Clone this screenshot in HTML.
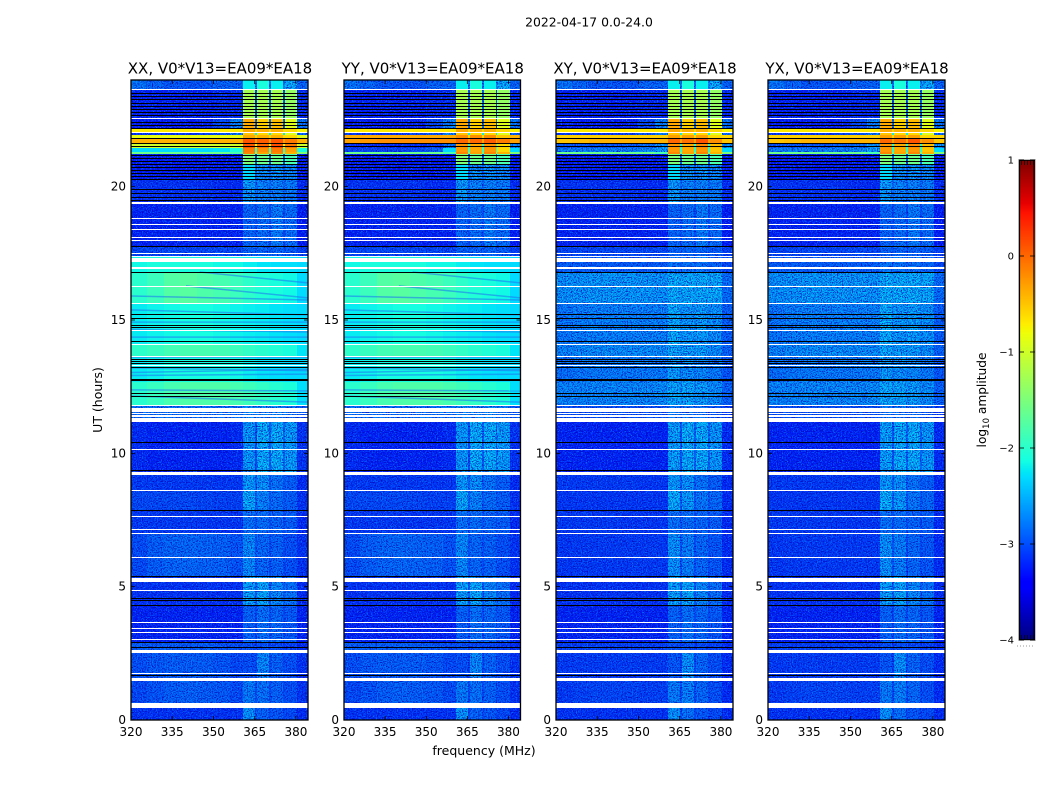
<!DOCTYPE html>
<html lang="en">
<head>
<meta charset="utf-8">
<title>2022-04-17 0.0-24.0</title>
<style>
html,body{margin:0;padding:0;background:#fff;}
svg{display:block;}
text{font-family:"DejaVu Sans","Liberation Sans",sans-serif;fill:#000;}
</style>
</head>
<body>
<svg id="figure" xmlns="http://www.w3.org/2000/svg" width="1050" height="800" viewBox="0 0 1050 800">
  <defs>
    <filter id="speckle-light" filterUnits="userSpaceOnUse" x="0" y="0" width="1050" height="800" color-interpolation-filters="sRGB">
      <feTurbulence type="fractalNoise" baseFrequency="0.8" numOctaves="2" seed="4"/>
      <feColorMatrix type="matrix" values="0 0 0 0 0.02  0 0 0 0 0.5  0 0 0 0 1  4 0 0 0 -1.8"/>
      <feComposite in2="SourceAlpha" operator="in"/>
    </filter>
    <filter id="speckle-dark" filterUnits="userSpaceOnUse" x="0" y="0" width="1050" height="800" color-interpolation-filters="sRGB">
      <feTurbulence type="fractalNoise" baseFrequency="0.8" numOctaves="2" seed="11"/>
      <feColorMatrix type="matrix" values="0 0 0 0 0  0 0 0 0 0  0 0 0 0 0.7  4 0 0 0 -1.8"/>
      <feComposite in2="SourceAlpha" operator="in"/>
    </filter>
  </defs>
  <text x="589" y="26.5" font-size="12.4" text-anchor="middle">2022-04-17 0.0-24.0</text>
  <text x="484" y="755" font-size="12.5" text-anchor="middle">frequency (MHz)</text>
  <text transform="translate(102,400) rotate(-90)" font-size="12.5" text-anchor="middle">UT (hours)</text>
  <text transform="translate(986,400) rotate(-90)" font-size="12.2" text-anchor="middle">log<tspan font-size="8.5" dy="3">10</tspan><tspan dy="-3"> amplitude</tspan></text>
  <g id="panels"></g>
  <g id="colorbar"></g>
</svg>
<script>
// ---- data ----
const xTicks = [320, 335, 350, 365, 380];
const yTicks = [0, 5, 10, 15, 20];
const colorTicks = [1, 0, -1, -2, -3, -4];
const panelTitles = ['XX, V0*V13=EA09*EA18', 'YY, V0*V13=EA09*EA18', 'XY, V0*V13=EA09*EA18', 'YX, V0*V13=EA09*EA18'];

// frequency bin edges (MHz)
const freqEdges = [320, 326, 332, 338, 344, 350, 356, 360.7, 365.1, 365.8, 370.2, 370.9, 375.3, 376, 380.4, 384.4];

// time bands (UT hours) and the spectrum each one uses
const bandStart = [23.66, 22.58, 22.16, 22.05, 21.94, 21.79, 21.64, 21.45, 21.30, 21.22, 20.80, 20.25, 19.42, 17.78, 17.36, 16.80, 15.64, 14.07, 13.65, 12.68, 11.81, 11.18, 9.30, 8.63, 7.88, 7.00, 5.36, 4.31, 2.92, 2.62, 1.57, 0.64, 0];
const bandEnd = [24, 23.66, 22.58, 22.16, 22.05, 21.94, 21.79, 21.64, 21.45, 21.30, 21.22, 20.80, 20.25, 19.42, 17.78, 17.36, 16.80, 15.64, 14.07, 13.65, 12.68, 11.81, 11.18, 9.30, 8.63, 7.88, 7.00, 5.36, 4.31, 2.92, 2.62, 1.57, 0.64];
const bandSpectrum = ['top', 'rfiHigh', 'rfiOrange', 'hotA', 'gapBlue', 'hotB', 'hotC', 'hotD', 'hotE', 'hotF', 'fadeA', 'fadeB', 'blueA', 'blueB', 'blueC', 'greenTop', 'greenMain', 'cyanA', 'greenB', 'cyanB', 'greenC', 'lowGap', 'nightA', 'nightB', 'nightC', 'nightD', 'nightE', 'nightF', 'nightG', 'nightH', 'nightI', 'nightJ', 'nightK'];

// log10 amplitude per frequency bin for each kind of band
const parallelSpectra = {
  top:       [-2.7, -2.8, -2.9, -2.9, -2.9, -2.8, -2.8, -2.2, -2.7, -2.1, -2.7, -2.2, -2.6, -2.35, -2.8],
  rfiHigh:   [-3.25, -3.25, -3.25, -3.25, -3.25, -3.2, -3.2, -1.25, -3.0, -1.25, -2.9, -1.25, -2.9, -1.35, -3.2],
  rfiOrange: [-3.3, -3.3, -3.3, -3.3, -3.25, -3.0, -2.6, -0.35, -2.8, -0.55, -2.8, -0.45, -2.8, -0.9, -2.7],
  hotA:      [-0.7, -0.7, -0.7, -0.7, -0.7, -0.7, -0.7, -0.35, -0.6, -0.4, -0.6, -0.4, -0.6, -0.6, -0.75],
  gapBlue:   [-3.1, -3.1, -3.1, -3.1, -3.0, -2.9, -2.6, -0.5, -2.2, -0.6, -2.2, -0.6, -2.2, -0.9, -2.8],
  hotB:      [-0.85, -0.85, -0.85, -0.85, -0.85, -0.85, -0.85, -0.35, -0.6, -0.4, -0.6, -0.4, -0.6, -0.6, -0.9],
  hotC:      [-0.4, -0.4, -0.4, -0.4, -0.4, -0.4, -0.4, 0.1, -0.3, 0.05, -0.3, 0.1, -0.3, -0.1, -0.4],
  hotD:      [-1.0, -1.0, -1.0, -1.0, -1.0, -1.0, -1.0, 0.1, -0.8, 0.0, -0.8, 0.15, -0.8, -0.1, -1.0],
  hotE:      [-2.3, -2.3, -2.3, -2.3, -2.3, -2.25, -2.1, -0.1, -1.9, -0.2, -1.9, -0.1, -1.9, -0.3, -2.1],
  hotF:      [-1.6, -1.6, -1.6, -1.6, -1.6, -1.6, -1.8, -0.15, -1.6, -0.3, -1.6, -0.15, -1.6, -0.4, -1.5],
  fadeA:     [-3.3, -3.3, -3.3, -3.3, -3.3, -3.3, -3.3, -1.5, -2.9, -1.6, -2.9, -1.6, -2.9, -1.8, -3.3],
  fadeB:     [-3.3, -3.3, -3.3, -3.3, -3.3, -3.3, -3.3, -2.3, -2.85, -2.5, -2.85, -2.5, -2.85, -2.55, -3.3],
  blueA:     [-3.15, -3.15, -3.15, -3.15, -3.15, -3.2, -3.2, -2.45, -2.8, -2.6, -2.8, -2.6, -2.8, -2.65, -3.2],
  blueB:     [-3.25, -3.25, -3.25, -3.25, -3.25, -3.25, -3.25, -2.8, -3.0, -2.75, -3.0, -2.65, -3.0, -2.75, -3.3],
  blueC:     [-3.0, -3.0, -3.0, -3.0, -3.0, -3.0, -3.0, -2.8, -2.9, -2.8, -2.9, -2.8, -2.9, -2.85, -3.05],
  greenTop:  [-2.15, -2.1, -2.1, -2.1, -2.1, -2.15, -2.15, -2.2, -2.2, -2.25, -2.25, -2.28, -2.28, -2.28, -2.3],
  greenMain: [-2.0, -1.9, -1.75, -1.72, -1.78, -1.82, -1.9, -1.98, -2.05, -2.05, -2.1, -2.1, -2.15, -2.15, -2.3],
  cyanA:     [-2.22, -2.18, -2.15, -2.12, -2.12, -2.15, -2.18, -2.2, -2.22, -2.22, -2.25, -2.25, -2.28, -2.28, -2.3],
  greenB:    [-1.98, -1.92, -1.85, -1.82, -1.82, -1.85, -1.9, -1.95, -2.0, -2.0, -2.05, -2.05, -2.1, -2.1, -2.25],
  cyanB:     [-2.22, -2.18, -2.12, -2.12, -2.12, -2.12, -2.15, -2.2, -2.22, -2.25, -2.28, -2.28, -2.28, -2.3, -2.3],
  greenC:    [-2.0, -1.92, -1.82, -1.78, -1.78, -1.78, -1.82, -1.88, -1.92, -1.95, -2.0, -2.02, -2.08, -2.08, -2.28],
  lowGap:    [-2.75, -2.75, -2.75, -2.75, -2.75, -2.75, -2.75, -2.6, -2.7, -2.6, -2.7, -2.6, -2.7, -2.7, -2.9],
  nightA:    [-3.2, -3.25, -3.25, -3.25, -3.25, -3.25, -3.2, -2.45, -3.0, -2.32, -2.85, -2.32, -2.8, -2.42, -3.15],
  nightB:    [-3.1, -3.1, -3.1, -3.1, -3.1, -3.12, -3.12, -2.45, -2.85, -2.5, -2.9, -2.7, -2.9, -2.85, -3.2],
  nightC:    [-3.0, -3.0, -3.0, -3.0, -3.02, -3.05, -3.05, -2.35, -2.85, -2.6, -2.9, -2.75, -2.9, -2.85, -3.15],
  nightD:    [-3.1, -3.1, -3.1, -3.1, -3.12, -3.12, -3.12, -2.72, -2.95, -2.75, -2.95, -2.8, -3.0, -2.85, -3.2],
  nightE:    [-2.98, -2.85, -2.8, -2.78, -2.8, -2.82, -2.92, -2.55, -2.95, -2.78, -3.0, -2.82, -3.0, -2.95, -3.15],
  nightF:    [-3.15, -3.15, -3.15, -3.15, -3.15, -3.15, -3.15, -2.4, -2.85, -2.35, -2.9, -2.55, -2.9, -2.72, -3.2],
  nightG:    [-3.25, -3.25, -3.25, -3.25, -3.25, -3.25, -3.25, -2.82, -3.05, -2.72, -3.0, -2.78, -3.0, -2.88, -3.25],
  nightH:    [-2.85, -2.85, -2.85, -2.85, -2.85, -2.9, -2.95, -2.95, -3.05, -2.95, -3.05, -3.0, -3.1, -3.05, -3.2],
  nightI:    [-2.95, -2.88, -2.85, -2.85, -2.85, -2.9, -3.0, -2.95, -3.05, -2.55, -3.0, -2.82, -3.0, -2.95, -3.15],
  nightJ:    [-3.0, -2.92, -2.85, -2.82, -2.85, -2.88, -2.98, -2.65, -3.0, -2.72, -3.0, -2.82, -3.0, -2.95, -3.15],
  nightK:    [-3.15, -3.15, -3.15, -3.15, -3.15, -3.15, -3.15, -2.5, -3.0, -2.82, -3.0, -2.9, -3.05, -3.0, -3.2]
};

// YY differs from XX only in the brightest hours
const yyOverrides = {
  hotB: [-0.35, -0.35, -0.35, -0.35, -0.35, -0.35, -0.35, -0.2, -0.6, -0.2, -0.6, -0.2, -0.6, -0.5, -0.4],
  hotC: [-0.3, -0.25, -0.2, -0.2, -0.2, -0.2, -0.2, 0.0, -0.3, 0.0, -0.3, 0.05, -0.3, -0.1, -0.3],
  hotD: [-3.2, -3.2, -3.2, -3.2, -3.2, -3.1, -2.7, -0.25, -2.0, -0.35, -2.0, -0.25, -2.0, -0.6, -2.6],
  hotE: [-3.0, -3.0, -3.0, -3.0, -2.95, -2.8, -2.3, -0.25, -1.9, -0.35, -1.9, -0.25, -1.9, -0.6, -2.3]
};

// XY and YX are weaker outside the RFI block and carry no smooth band at 11.5-17 UT
const crossOverrides = {
  hotB: [-0.55, -0.55, -0.55, -0.55, -0.55, -0.55, -0.55, -0.3, -0.6, -0.3, -0.6, -0.3, -0.6, -0.6, -0.6],
  hotC: [-0.5, -0.45, -0.4, -0.4, -0.4, -0.4, -0.4, 0.0, -0.3, -0.05, -0.3, 0.1, -0.3, -0.2, -0.5],
  hotD: [-2.9, -2.9, -2.9, -2.9, -2.85, -2.75, -2.5, -0.25, -2.0, -0.35, -2.0, -0.2, -2.0, -0.45, -2.5],
  hotE: [-2.6, -2.6, -2.6, -2.6, -2.6, -2.55, -2.4, -0.25, -2.0, -0.35, -2.0, -0.25, -2.0, -0.5, -2.3],
  greenTop:  [-2.85, -2.85, -2.85, -2.85, -2.85, -2.85, -2.85, -2.7, -2.85, -2.7, -2.85, -2.7, -2.85, -2.8, -3.0],
  greenMain: [-2.5, -2.48, -2.45, -2.45, -2.45, -2.45, -2.48, -2.32, -2.42, -2.32, -2.38, -2.32, -2.38, -2.34, -2.75],
  cyanA:     [-2.68, -2.62, -2.6, -2.6, -2.6, -2.6, -2.6, -2.32, -2.52, -2.45, -2.5, -2.42, -2.55, -2.5, -2.85],
  greenB:    [-2.58, -2.54, -2.52, -2.52, -2.52, -2.52, -2.52, -2.34, -2.48, -2.4, -2.5, -2.42, -2.55, -2.52, -2.82],
  cyanB:     [-2.72, -2.68, -2.65, -2.65, -2.65, -2.65, -2.65, -2.42, -2.62, -2.52, -2.65, -2.55, -2.65, -2.65, -2.9],
  greenC:    [-2.58, -2.58, -2.55, -2.55, -2.55, -2.55, -2.52, -2.34, -2.48, -2.36, -2.5, -2.42, -2.55, -2.52, -2.82],
  lowGap:    [-2.95, -2.95, -2.95, -2.95, -2.95, -2.95, -2.95, -2.7, -2.9, -2.7, -2.9, -2.75, -2.95, -2.9, -3.1],
  nightA:    [-3.25, -3.25, -3.25, -3.25, -3.25, -3.25, -3.25, -2.4, -2.92, -2.32, -2.82, -2.32, -2.8, -2.45, -3.2],
  nightC:    [-3.12, -3.12, -3.12, -3.12, -3.12, -3.12, -3.12, -2.32, -2.88, -2.45, -2.92, -2.68, -2.92, -2.78, -3.2],
  nightE:    [-3.12, -3.1, -3.1, -3.1, -3.1, -3.1, -3.1, -2.5, -2.95, -2.62, -3.0, -2.78, -3.0, -2.9, -3.2],
  nightH:    [-3.05, -3.05, -3.05, -3.05, -3.05, -3.05, -3.05, -2.95, -3.1, -2.95, -3.1, -3.0, -3.1, -3.05, -3.2],
  nightI:    [-3.1, -3.08, -3.08, -3.08, -3.08, -3.08, -3.08, -2.9, -3.05, -2.5, -3.0, -2.8, -3.0, -2.95, -3.2],
  nightJ:    [-3.1, -3.05, -3.02, -3.02, -3.02, -3.05, -3.05, -2.65, -3.0, -2.62, -3.0, -2.78, -3.0, -2.95, -3.2],
  nightK:    [-3.15, -3.15, -3.15, -3.15, -3.15, -3.15, -3.15, -2.5, -3.0, -2.72, -3.0, -2.9, -3.05, -3.0, -3.2]
};

// flagged (blank) time ranges, UT hours
const flagStart = [23.63, 22.54, 22.01, 19.35, 18.79, 18.56, 18.38, 18.06, 17.96, 17.48, 17.37, 17.16, 16.91, 16.24, 15.60, 14.59, 14.06, 13.61, 13.28, 11.78, 11.55, 11.48, 11.36, 11.18, 10.13, 9.17, 8.57, 7.61, 7.13, 6.98, 6.08, 5.18, 4.84, 3.64, 3.41, 3.26, 3.00, 2.51, 1.73, 1.46, 0.45];
const flagEnd = [23.68, 22.58, 22.05, 19.43, 18.83, 18.60, 18.41, 18.11, 18.00, 17.51, 17.40, 17.34, 16.99, 16.28, 15.64, 14.63, 14.10, 13.65, 13.31, 11.81, 11.70, 11.51, 11.44, 11.33, 10.16, 9.30, 8.63, 7.65, 7.16, 7.01, 6.11, 5.33, 4.88, 3.68, 3.45, 3.30, 3.04, 2.63, 1.76, 1.58, 0.64];

// zero-amplitude (black) integrations, UT hours
const deadHours = [23.51, 23.40, 23.29, 23.14, 23.03, 22.91, 22.80, 22.69, 22.43, 22.31, 22.20, 21.81, 21.62, 21.53, 21.19, 21.08, 20.96, 20.85, 20.74, 20.63, 20.51, 20.40, 20.27, 19.91, 19.76, 19.61, 19.50, 17.78, 16.80, 15.23, 15.09, 15.06, 14.81, 14.74, 14.21, 13.54, 13.46, 13.39, 13.24, 12.79, 12.75, 12.26, 12.15, 10.44, 9.38, 7.88, 5.40, 4.58, 4.50, 4.31, 2.93, 2.74, 1.69];

// drifting fringes in XX/YY: UT at start/end frequency
const fringeFreqStart = [345, 340, 320, 320, 320, 320, 320, 320, 320, 320, 320, 320, 320];
const fringeFreqEnd = [384.4, 384.4, 384.4, 384.4, 384.4, 384.4, 384.4, 384.4, 384.4, 384.4, 384.4, 384.4, 384.4];
const fringeHourStart = [16.80, 16.28, 15.90, 15.38, 14.92, 14.36, 13.61, 13.03, 12.38, 12.15, 12.92, 14.65, 13.20];
const fringeHourEnd = [16.39, 15.83, 15.75, 15.19, 14.92, 14.36, 13.61, 13.15, 12.34, 11.92, 12.97, 14.55, 13.10];

// ---- axes ----
const svgNS = 'http://www.w3.org/2000/svg';
const panelLeft = [131, 344, 556, 768];
const panelWidths = [177, 176.5, 177, 177];
const panelTop = 80;
const panelBottom = 720;
const freqMin = 320;
const freqMax = 384.4;
const hourMax = 24;
const colorMin = -4;
const colorMax = 1;
const cbarLeft = 1019;
const cbarRight = 1035;
const cbarTop = 160;
const cbarBottom = 640;

function hourToY(h) { return panelBottom - (h / hourMax) * (panelBottom - panelTop); }
function freqToX(f, left, width) { return left + ((f - freqMin) / (freqMax - freqMin)) * width; }
function valueToY(v) { return cbarBottom - ((v - colorMin) / (colorMax - colorMin)) * (cbarBottom - cbarTop); }

function ramp(t, a, b) { return Math.max(0, Math.min(1, (t - a) / (b - a))); }
function jet(v) {
  const t = Math.max(0, Math.min(1, (v - colorMin) / (colorMax - colorMin)));
  let r = ramp(t, 0.35, 0.66);
  if (t > 0.89) r = 1 - 0.5 * ramp(t, 0.89, 1);
  let g = ramp(t, 0.125, 0.375);
  if (t > 0.64) g = 1 - ramp(t, 0.64, 0.91);
  let b = 0.5 + 0.5 * ramp(t, 0, 0.11);
  if (t > 0.34) b = 1 - ramp(t, 0.34, 0.65);
  return 'rgb(' + Math.round(r * 255) + ',' + Math.round(g * 255) + ',' + Math.round(b * 255) + ')';
}

function make(tag, parent, attrs) {
  const el = document.createElementNS(svgNS, tag);
  for (const k in attrs) el.setAttribute(k, attrs[k]);
  parent.appendChild(el);
  return el;
}

const panelsRoot = document.getElementById('panels');
const spectraByPanel = [
  parallelSpectra,
  Object.assign({}, parallelSpectra, yyOverrides),
  Object.assign({}, parallelSpectra, crossOverrides),
  Object.assign({}, parallelSpectra, crossOverrides)
];

panelTitles.forEach(function (title, p) {
  const left = panelLeft[p];
  const panelWidth = panelWidths[p];
  const right = left + panelWidth;
  const spectra = spectraByPanel[p];
  const group = make('g', panelsRoot, {});
  
  

  const cells = make('g', group, { 'shape-rendering': 'crispEdges' });
  
  
  let noisy = '';
  bandSpectrum.forEach(function (name, b) {
    const y0 = Math.round(hourToY(bandEnd[b]));
    const y1 = Math.round(hourToY(bandStart[b]));
    spectra[name].forEach(function (v, c) {
      const x0 = Math.round(freqToX(freqEdges[c], left, panelWidth));
      const x1 = Math.round(freqToX(freqEdges[c + 1], left, panelWidth));
      const cell = make('rect', cells, { x: x0, y: y0, width: x1 - x0, height: y1 - y0, fill: jet(v) });
      
      
      if (v < -2.3) noisy += 'M' + x0 + ' ' + y0 + 'H' + x1 + 'V' + y1 + 'H' + x0 + 'Z';
    });
  });

  const light = make('path', group, { d: noisy, fill: '#000', filter: 'url(#speckle-light)', opacity: 0.8 });
  
  
  const dark = make('path', group, { d: noisy, fill: '#000', filter: 'url(#speckle-dark)', opacity: 0.8 });
  
  

  if (p < 2) {
    fringeHourStart.forEach(function (h, i) {
      const line = make('line', group, {
        x1: freqToX(fringeFreqStart[i], left, panelWidth), y1: hourToY(h),
        x2: freqToX(fringeFreqEnd[i], left, panelWidth), y2: hourToY(fringeHourEnd[i]),
        stroke: '#1f7df0', 'stroke-width': 1.5, opacity: 0.6
      });
      
      
    });
  }

  const rows = make('g', group, { 'shape-rendering': 'crispEdges' });
  
  
  deadHours.forEach(function (h) {
    const row = make('rect', rows, { x: left, y: Math.round(hourToY(h)), width: panelWidth, height: 1, fill: '#000' });
    
    
  });
  flagStart.forEach(function (h, i) {
    const y0 = Math.round(hourToY(flagEnd[i]));
    const y1 = Math.round(hourToY(h));
    const row = make('rect', rows, { x: left, y: y0, width: panelWidth, height: Math.max(1, y1 - y0), fill: '#fff' });
    
    
  });

  const frame = make('rect', group, { x: left, y: panelTop, width: panelWidth, height: panelBottom - panelTop, fill: 'none', stroke: '#000', 'stroke-width': 1.3 });
  
  

  const heading = make('text', group, { x: left + panelWidth / 2 + 0.5, y: 73.5, 'font-size': 15, 'text-anchor': 'middle' });
  heading.textContent = title;
  
  

  xTicks.forEach(function (f) {
    const x = freqToX(f, left, panelWidth);
    const tb = make('line', group, { x1: x, x2: x, y1: panelBottom, y2: panelBottom - 4, stroke: '#000', 'stroke-width': 0.8 });
    
    
    const tt = make('line', group, { x1: x, x2: x, y1: panelTop, y2: panelTop + 4, stroke: '#000', 'stroke-width': 0.8 });
    
    
    const label = make('text', group, { x: x, y: 736, 'font-size': 12, 'text-anchor': 'middle' });
    label.textContent = String(f);
    
    
  });

  yTicks.forEach(function (h) {
    const y = hourToY(h);
    const tl = make('line', group, { x1: left, x2: left + 4, y1: y, y2: y, stroke: '#000', 'stroke-width': 0.8 });
    
    
    const tr = make('line', group, { x1: right, x2: right - 4, y1: y, y2: y, stroke: '#000', 'stroke-width': 0.8 });
    
    
    const label = make('text', group, { x: left - 5, y: y + 4, 'font-size': 12, 'text-anchor': 'end' });
    label.textContent = String(h);
    
    
  });
});

// ---- colorbar ----
const cbar = document.getElementById('colorbar');
const cbarSteps = 240;
for (let i = 0; i < cbarSteps; i++) {
  const v0 = colorMin + (colorMax - colorMin) * i / cbarSteps;
  const v1 = colorMin + (colorMax - colorMin) * (i + 1) / cbarSteps;
  const s = make('rect', cbar, { x: cbarLeft, y: valueToY(v1), width: cbarRight - cbarLeft, height: valueToY(v0) - valueToY(v1) + 0.5, fill: jet((v0 + v1) / 2), 'shape-rendering': 'crispEdges' });
  
  
}
const halo = make('rect', cbar, { x: cbarLeft - 0.5, y: cbarTop - 0.5, width: cbarRight - cbarLeft + 1, height: cbarBottom - cbarTop + 1, fill: 'none', stroke: '#c4c4c4', 'stroke-width': 1 });


const cbLeftEdge = make('line', cbar, { x1: cbarLeft + 0.5, x2: cbarLeft + 0.5, y1: cbarTop, y2: cbarBottom, stroke: '#000', 'stroke-width': 1.2 });


const cbRightEdge = make('line', cbar, { x1: cbarRight - 1, x2: cbarRight - 1, y1: cbarTop, y2: cbarBottom, stroke: '#000', 'stroke-width': 1.2 });


const cbTopEdge = make('line', cbar, { x1: cbarLeft, x2: cbarRight, y1: cbarTop + 0.5, y2: cbarTop + 0.5, stroke: '#000', 'stroke-width': 0.8 });


const cbBottomEdge = make('line', cbar, { x1: cbarLeft, x2: cbarRight, y1: cbarBottom - 0.5, y2: cbarBottom - 0.5, stroke: '#000', 'stroke-width': 0.8 });


[0, 1, 2, 3, 4].forEach(function (i) {
  const x = cbarLeft + 2.5 + i * 3;
  const a = make('line', cbar, { x1: x, x2: x, y1: cbarTop, y2: cbarTop + 5, stroke: '#000', 'stroke-width': 0.7 });
  
  
  const b = make('line', cbar, { x1: x, x2: x, y1: cbarBottom, y2: cbarBottom - 5, stroke: '#000', 'stroke-width': 0.7 });
  
  
});
colorTicks.forEach(function (v) {
  const y = valueToY(v);
  const tl = make('line', cbar, { x1: cbarLeft, x2: cbarLeft + 5, y1: y, y2: y, stroke: '#000', 'stroke-width': 0.8 });
  
  
  const tr = make('line', cbar, { x1: cbarRight, x2: cbarRight - 5, y1: y, y2: y, stroke: '#000', 'stroke-width': 0.8 });
  
  
  const label = make('text', cbar, { x: cbarLeft - 5, y: y + 3.5, 'font-size': 10, 'text-anchor': 'end' });
  label.textContent = v < 0 ? '\u2212' + Math.abs(v) : String(v);
  
  
});
const dots = make('line', cbar, { x1: 1017, x2: 1035, y1: 646, y2: 646, stroke: '#9a9a9a', 'stroke-width': 1, 'stroke-dasharray': '1 2' });


</script>
</body>
</html>
